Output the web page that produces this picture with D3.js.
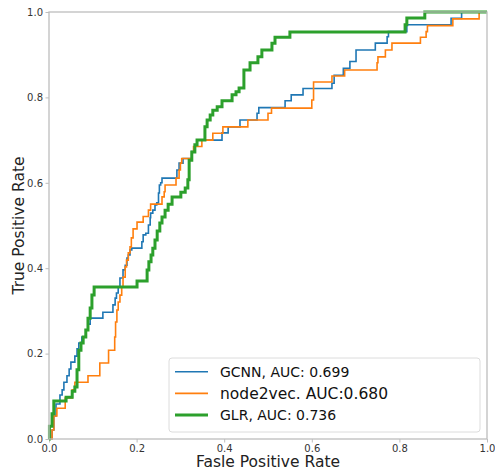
<!DOCTYPE html>
<html><head><meta charset="utf-8">
<script src="https://cdn.jsdelivr.net/npm/d3@7/dist/d3.min.js"></script>
<style>body{margin:0;background:#fff}svg{display:block}text{font-family:"DejaVu Sans",sans-serif}</style>
</head><body>
<svg id="c" width="495" height="472"></svg>
<script>
// ROC corner points [fpr, tpr] (points where each vertical rise ends)
const gcnnRoc = [[0,0],[.007,.021],[.011,.054],[.016,.082],[.025,.103],[.030,.115],[.034,.133],[.041,.148],[.046,.164],[.050,.180],[.059,.194],[.064,.211],[.068,.225],[.075,.239],[.084,.255],[.089,.269],[.094,.283],[.123,.297],[.146,.314],[.151,.330],[.154,.342],[.158,.356],[.162,.377],[.169,.396],[.174,.407],[.178,.424],[.181,.431],[.185,.443],[.189,.447],[.212,.462],[.215,.478],[.221,.482],[.227,.501],[.231,.518],[.232,.529],[.237,.536],[.242,.548],[.246,.553],[.250,.576],[.252,.595],[.255,.600],[.258,.611],[.292,.630],[.297,.646],[.306,.657],[.326,.673],[.333,.689],[.338,.700],[.395,.717],[.409,.731],[.436,.747],[.475,.763],[.479,.776],[.539,.792],[.553,.806],[.580,.821],[.646,.833],[.651,.852],[.672,.868],[.687,.884],[.701,.911],[.745,.927],[.772,.942],[.775,.954],[.817,.970],[.918,.985],[.942,1],[1,1]];
const node2vecRoc = [[0,0],[.007,.021],[.011,.054],[.018,.072],[.037,.096],[.053,.115],[.059,.133],[.089,.148],[.116,.178],[.136,.208],[.150,.239],[.152,.274],[.155,.302],[.158,.321],[.162,.337],[.166,.356],[.169,.379],[.174,.403],[.177,.419],[.181,.436],[.185,.450],[.188,.471],[.192,.492],[.201,.508],[.215,.521],[.227,.536],[.232,.550],[.258,.567],[.263,.579],[.265,.595],[.290,.611],[.297,.630],[.300,.646],[.303,.657],[.326,.672],[.330,.685],[.349,.700],[.374,.716],[.397,.731],[.454,.747],[.500,.763],[.508,.775],[.600,.794],[.604,.836],[.646,.850],[.675,.864],[.749,.881],[.751,.895],[.768,.911],[.783,.927],[.848,.941],[.861,.954],[.864,.968],[.922,.984],[.982,1],[1,1]];
const glrRoc = [[0,0],[.001,.030],[.007,.059],[.011,.089],[.039,.098],[.053,.112],[.059,.122],[.064,.162],[.068,.208],[.073,.225],[.078,.239],[.084,.255],[.089,.283],[.094,.307],[.098,.337],[.103,.356],[.201,.370],[.224,.396],[.228,.415],[.233,.431],[.237,.447],[.242,.466],[.247,.487],[.253,.506],[.258,.520],[.265,.536],[.272,.550],[.281,.567],[.301,.578],[.311,.588],[.317,.607],[.320,.653],[.326,.672],[.333,.689],[.338,.700],[.356,.731],[.361,.747],[.368,.759],[.374,.770],[.384,.778],[.395,.792],[.418,.806],[.427,.813],[.434,.822],[.445,.864],[.459,.881],[.477,.895],[.486,.911],[.509,.927],[.516,.941],[.550,.953],[.813,.970],[.817,.986],[.858,1],[1,1]];
const seriesNames = ["GCNN, AUC: 0.699","node2vec. AUC:0.680","GLR, AUC: 0.736"];
const seriesColors = ["#1f77b4","#ff7f0e","#2ca02c"];
const tickValues = [0,0.2,0.4,0.6,0.8,1.0];
const xLabel = "Fasle Positive Rate", yLabel = "True Positive Rate";

const svg = d3.select("#c");
const L=49,R=487,T=12,B=439;
const x = d3.scaleLinear([0,1],[L,R]);
const y = d3.scaleLinear([0,1],[B,T]);
const axisCol="#bdbdbd";

const xa = svg.append("g").attr("transform",`translate(0,${B})`)
  .call(d3.axisBottom(x).tickValues(tickValues).tickFormat(d3.format(".1f")).tickSize(3.5).tickPadding(2.5));
const ya = svg.append("g").attr("transform",`translate(${L},0)`)
  .call(d3.axisLeft(y).tickValues(tickValues).tickFormat(d3.format(".1f")).tickSize(3.5).tickPadding(2.5));
[xa,ya].forEach(a=>{a.select(".domain").remove();a.selectAll("line").attr("stroke",axisCol);
  a.selectAll("text").attr("fill","#333").style("font-size","10px").style("font-family","DejaVu Sans");});

const line = d3.line().x(d=>x(d[0])).y(d=>y(d[1])).curve(d3.curveStepAfter);
const data=[gcnnRoc,node2vecRoc,glrRoc];
const widths=[1.6,1.6,3];
data.forEach((d,i)=>svg.append("path").datum(d).attr("d",line).attr("fill","none")
  .attr("stroke",seriesColors[i]).attr("stroke-width",widths[i]).attr("stroke-linejoin","miter"));

svg.append("rect").attr("x",L).attr("y",T).attr("width",R-L).attr("height",B-T)
  .attr("fill","none").attr("stroke",axisCol).attr("stroke-width",1.3);

svg.append("text").attr("x",(L+R)/2).attr("y",467).attr("text-anchor","middle")
  .style("font-size","15.5px").attr("fill","#222").text(xLabel);
svg.append("text").attr("transform",`translate(24,${(T+B)/2}) rotate(-90)`).attr("text-anchor","middle")
  .style("font-size","15.5px").attr("fill","#222").text(yLabel);

// legend
const lg = svg.append("g");
lg.append("rect").attr("x",169).attr("y",358).attr("width",311).attr("height",74).attr("rx",3)
  .attr("fill","#fff").attr("fill-opacity",0.85).attr("stroke","#dcdcdc");
const fs=[14,15.5,14];
seriesNames.forEach((n,i)=>{
  const yy=371.7+i*21.7;
  lg.append("line").attr("x1",175).attr("x2",208).attr("y1",yy).attr("y2",yy)
    .attr("stroke",seriesColors[i]).attr("stroke-width",widths[i]);
  lg.append("text").attr("x",220).attr("y",yy).attr("dy","0.36em").style("font-size",fs[i]+"px")
    .attr("fill","#111").text(n);
});
</script>
</body></html>
